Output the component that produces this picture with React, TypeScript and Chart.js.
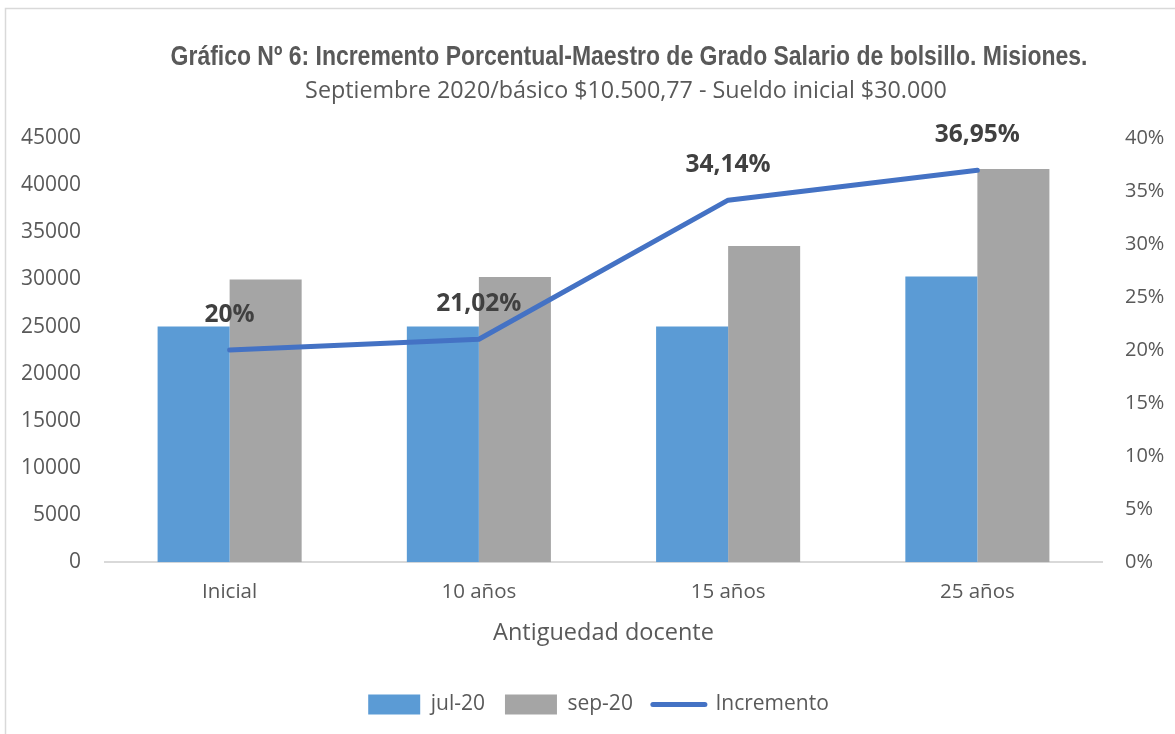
import React, { useEffect, useRef } from "react";
import { Chart, registerables } from "chart.js";

Chart.register(...registerables);

const categories = ["Inicial", "10 años", "15 años", "25 años"];
const jul20 = [25000, 25000, 25000, 30300];
const sep20 = [30000, 30255, 33535, 41700];
const incremento = [20, 21.02, 34.14, 36.95];
const incrementoLabels = ["20%", "21,02%", "34,14%", "36,95%"];

const TITLE = "Gráfico Nº 6: Incremento Porcentual-Maestro de Grado Salario de bolsillo. Misiones.";
const SUBTITLE = "Septiembre 2020/básico $10.500,77 - Sueldo inicial $30.000";
const TEXT = "#595959";
const BODY_FONT = "'Open Sans', 'Noto Sans', sans-serif";

const framePlugin = {
  id: "frame",
  afterLayout(chart: any) {
    if (chart.legend) {
      chart.legend.left += 11;
      chart.legend.right += 11;
    }
  },
  beforeDraw(chart: any) {
    const ctx = chart.ctx;
    ctx.save();
    ctx.fillStyle = "#ffffff";
    ctx.fillRect(0, 0, chart.width, chart.height);
    ctx.strokeStyle = "#d9d9d9";
    ctx.lineWidth = 1.5;
    ctx.strokeRect(5.5, 8.5, chart.width + 20, chart.height + 20);
    ctx.restore();
  },
  afterDraw(chart: any) {
    const ctx = chart.ctx;
    ctx.save();
    ctx.textAlign = "center";
    ctx.textBaseline = "middle";
    ctx.fillStyle = TEXT;
    ctx.save();
    ctx.translate(629, 57);
    ctx.scale(0.82, 1);
    ctx.font = "bold 28px 'Liberation Sans', Arial, sans-serif";
    ctx.fillText(TITLE, 0, 0);
    ctx.restore();
    ctx.font = "23.3px " + BODY_FONT;
    ctx.fillText(SUBTITLE, 626, 91);
    ctx.restore();
  },
};

const labelPlugin = {
  id: "lineLabels",
  afterDatasetsDraw(chart: any) {
    const meta = chart.getDatasetMeta(2);
    const ctx = chart.ctx;
    ctx.save();
    ctx.textAlign = "center";
    ctx.textBaseline = "middle";
    ctx.fillStyle = "#404040";
    ctx.font = "bold 24.5px " + BODY_FONT;
    meta.data.forEach((pt: any, i: number) => {
      ctx.fillText(incrementoLabels[i], pt.x, pt.y - 35);
    });
    ctx.restore();
  },
};

export default function App() {
  const ref = useRef<HTMLCanvasElement>(null);
  useEffect(() => {
    if (!ref.current) return;
    const chart = new Chart(ref.current, {
      type: "bar",
      data: {
        labels: categories,
        datasets: [
          {
            label: "jul-20",
            data: jul20,
            backgroundColor: "#5B9BD5",
            yAxisID: "y",
            order: 2,
            categoryPercentage: 0.578,
            barPercentage: 1,
          },
          {
            label: "sep-20",
            data: sep20,
            backgroundColor: "#A5A5A5",
            yAxisID: "y",
            order: 2,
            categoryPercentage: 0.578,
            barPercentage: 1,
          },
          {
            type: "line",
            label: "Incremento",
            data: incremento,
            borderColor: "#4472C4",
            backgroundColor: "#4472C4",
            borderWidth: 5,
            pointRadius: 0,
            borderCapStyle: "round",
            borderJoinStyle: "round",
            yAxisID: "y1",
            order: 1,
          } as any,
        ],
      },
      options: {
        animation: false,
        responsive: false,
        layout: { padding: { top: 138, left: 5, right: 5, bottom: 9 } },
        scales: {
          x: {
            grid: { display: false },
            border: { display: true, color: "#d9d9d9", width: 2 },
            ticks: { color: TEXT, font: { size: 20.5, family: BODY_FONT }, padding: 10 },
            title: {
              display: true,
              text: "Antiguedad docente",
              color: TEXT,
              font: { size: 23.5, family: BODY_FONT },
              padding: { top: 4, bottom: 27 },
            },
          },
          y: {
            position: "left",
            min: 0,
            max: 45000,
            grid: { display: false },
            border: { display: false },
            afterFit: (s: any) => {
              s.width = 100;
            },
            ticks: {
              stepSize: 5000,
              color: TEXT,
              font: { size: 21, family: BODY_FONT },
              padding: 16,
              callback: (v: any) => String(v),
            },
          },
          y1: {
            position: "right",
            min: 0,
            max: 40,
            grid: { display: false },
            border: { display: false },
            afterFit: (s: any) => {
              s.width = 68;
            },
            ticks: {
              stepSize: 5,
              color: TEXT,
              font: { size: 20, family: BODY_FONT },
              padding: 15,
              callback: (v: any) => v + "%",
            },
          },
        },
        plugins: {
          title: { display: false },
          tooltip: { enabled: false },
          legend: {
            position: "bottom",
            labels: {
              color: TEXT,
              font: { size: 21, family: BODY_FONT },
              usePointStyle: true,
              pointStyleWidth: 52,
              boxHeight: 20,
              padding: 20,
              sort: (a: any, b: any) => a.datasetIndex - b.datasetIndex,
              generateLabels: (chart: any) => {
                const base = Chart.defaults.plugins.legend.labels.generateLabels(chart);
                return base.map((l: any) => {
                  const isLine = l.datasetIndex === 2;
                  return {
                    ...l,
                    pointStyle: isLine ? "line" : "rect",
                    lineWidth: isLine ? 5 : 0,
                    lineCap: "round",
                    strokeStyle: isLine ? "#4472C4" : l.fillStyle,
                  };
                });
              },
            },
          },
        },
      },
      plugins: [framePlugin, labelPlugin],
    });
    return () => chart.destroy();
  }, []);
  return (
    <div style={{ position: "absolute", left: 0, top: 0 }}>
      <style>{`body{margin:0;overflow:hidden}`}</style>
      <canvas ref={ref} width={1175} height={734} style={{ display: "block" }} />
    </div>
  );
}
